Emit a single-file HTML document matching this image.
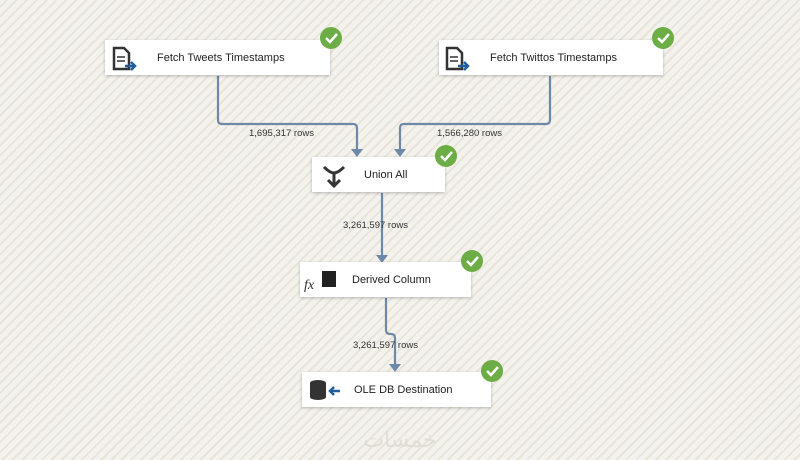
<!DOCTYPE html>
<html><head><style>
body{margin:0;}
#c{position:relative;width:800px;height:460px;overflow:hidden;font-family:"Liberation Sans",sans-serif;
background:repeating-linear-gradient(-45deg,#f4f2ed 0 3px,#e8e4da 3px 5px,#f4f2ed 5px 7px);}
.b{position:absolute;background:#fff;box-shadow:0 1px 3px rgba(0,0,0,.25);font-size:11px;color:#222;box-sizing:border-box;}
.b span{position:absolute;top:12px;}
.lbl{position:absolute;font-size:9.5px;color:#333;}
svg{position:absolute;left:0;top:0;}
</style></head><body><div id="c">
<svg width="800" height="460">
<g fill="none" stroke="#6e88a8" stroke-width="2.2">
<path d="M218 76 V120 Q218 124 222 124 H353 Q357 124 357 128 V150"/>
<path d="M550 76 V120 Q550 124 546 124 H404 Q400 124 400 128 V150"/>
<path d="M382 193 V256"/>
<path d="M386 298 V330 Q386 334 390 334 H391 Q395 334 395 338 V365"/>
</g>
<g fill="#6e88a8">
<path d="M351 149 h12 l-6 8z"/><path d="M394 149 h12 l-6 8z"/>
<path d="M376 255 h12 l-6 8z"/><path d="M389 364 h12 l-6 8z"/>
</g>
</svg>
<div class="b" style="left:105px;top:40px;width:225px;height:35px"><span style="left:52px">Fetch Tweets Timestamps</span></div>
<div class="b" style="left:439px;top:40px;width:224px;height:35px"><span style="left:51px">Fetch Twittos Timestamps</span></div>
<div class="b" style="left:312px;top:157px;width:133px;height:35px"><span style="left:52px">Union All</span></div>
<div class="b" style="left:300px;top:262px;width:171px;height:35px"><span style="left:52px">Derived Column</span></div>
<div class="b" style="left:302px;top:372px;width:189px;height:35px"><span style="left:52px">OLE DB Destination</span></div>
<svg width="800" height="460">
<g fill="#fff" stroke="#333" stroke-width="2.5">
<path d="M114 48 h10 l5 5 v16 h-15z"/><path d="M447 48 h10 l5 5 v16 h-15z"/>
</g>
<g stroke="#333" stroke-width="1.5"><path d="M117 57h8M117 61h8M450 57h8M450 61h8"/></g>
<g stroke="#1f5fa0" stroke-width="2.5" fill="none"><path d="M125 66h10M131 62l4 4-4 4"/><path d="M458 66h10M464 62l4 4-4 4"/><path d="M340 391h-10M334 387l-4 4 4 4"/></g>
<path d="M324 167 q6 6 10 6 q4 0 10-6 M334 173 v12 M328 180 l6 6 6-6" stroke="#333" stroke-width="3" fill="none"/>
<rect x="322" y="271" width="14" height="16" fill="#222"/>
<text x="304" y="289" font-family="Liberation Serif" font-style="italic" font-size="14" fill="#333">fx</text>
<ellipse cx="318" cy="383" rx="8" ry="3" fill="#333"/><rect x="310" y="383" width="16" height="14" fill="#333"/><ellipse cx="318" cy="397" rx="8" ry="3" fill="#333"/>
<g>
<circle cx="331" cy="38" r="11" fill="#6cad45"/><circle cx="663" cy="38" r="11" fill="#6cad45"/>
<circle cx="446" cy="156" r="11" fill="#6cad45"/><circle cx="472" cy="261" r="11" fill="#6cad45"/>
<circle cx="492" cy="371" r="11" fill="#6cad45"/>
</g>
<g stroke="#fff" stroke-width="2.5" fill="none">
<path d="M326 38l4 4 7-8"/><path d="M658 38l4 4 7-8"/><path d="M441 156l4 4 7-8"/><path d="M467 261l4 4 7-8"/><path d="M487 371l4 4 7-8"/>
</g>
<text x="400" y="447" font-size="22" fill="#e0ddd6" text-anchor="middle" font-family="DejaVu Sans">خمسات</text>
</svg>
<div class="lbl" style="left:249px;top:128px">1,695,317 rows</div>
<div class="lbl" style="left:437px;top:128px">1,566,280 rows</div>
<div class="lbl" style="left:343px;top:220px">3,261,597 rows</div>
<div class="lbl" style="left:353px;top:340px">3,261,597 rows</div>
</div></body></html>
